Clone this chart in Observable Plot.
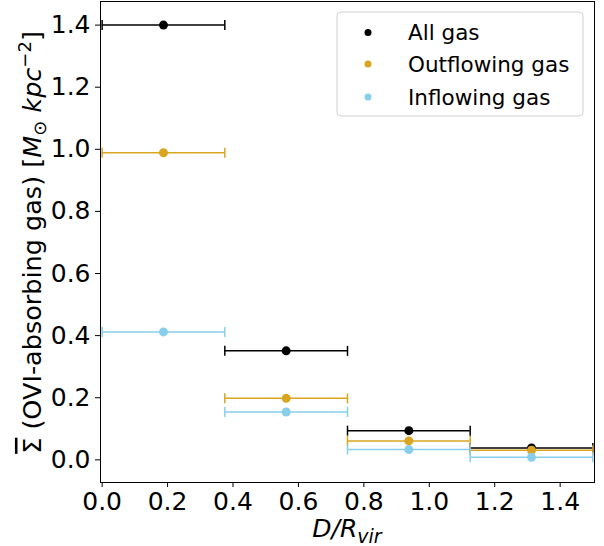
<!DOCTYPE html>
<html><head><meta charset="utf-8">
<script src="https://cdn.jsdelivr.net/npm/d3@7"></script>
<script src="https://cdn.jsdelivr.net/npm/@observablehq/plot@0.6"></script>
<style>body{margin:0;background:#fff}</style>
</head><body><div id="chart"></div>
<script>
const xCenters = [0.1875, 0.5625, 0.9375, 1.3125];
const xHalfWidth = 0.1875;
const allGas = [1.400, 0.351, 0.094, 0.038];
const outflowGas = [0.989, 0.198, 0.061, 0.031];
const inflowGas = [0.412, 0.154, 0.033, 0.008];
const seriesNames = ["All gas", "Outflowing gas", "Inflowing gas"];
const seriesColors = ["#000000", "#DAA520", "#87CEEB"];
const xTicks = [0.0, 0.2, 0.4, 0.6, 0.8, 1.0, 1.2, 1.4];
const yTicks = [0.0, 0.2, 0.4, 0.6, 0.8, 1.0, 1.2, 1.4];

const seriesValues = [allGas, outflowGas, inflowGas];
const rows = [];
seriesValues.forEach((vals, s) => vals.forEach((v, i) => rows.push({
  series: seriesNames[s], x: xCenters[i], x1: xCenters[i] - xHalfWidth, x2: xCenters[i] + xHalfWidth, y: v
})));

const capSymbol = { draw(ctx) { ctx.moveTo(0, -5); ctx.lineTo(0, 5); } };
const color = { domain: seriesNames, range: seriesColors };

const marks = [];
seriesNames.forEach(name => {
  const d = rows.filter(r => r.series === name);
  marks.push(Plot.ruleY(d, { x1: "x1", x2: "x2", y: "y", stroke: "series", strokeWidth: 1.5 }));
  marks.push(Plot.dot(d, { x: "x1", y: "y", symbol: capSymbol, stroke: "series", strokeWidth: 1.5, fill: "none" }));
  marks.push(Plot.dot(d, { x: "x2", y: "y", symbol: capSymbol, stroke: "series", strokeWidth: 1.5, fill: "none" }));
  marks.push(Plot.dot(d, { x: "x", y: "y", r: 4.5, fill: "series", stroke: "none" }));
});

const W = 604, H = 546, ML = 100, MR = 10, MT = 1, MB = 64;
const svg = Plot.plot({
  width: W, height: H, marginLeft: ML, marginRight: MR, marginTop: MT, marginBottom: MB,
  style: { fontFamily: "DejaVu Sans", fontSize: "25px", color: "black", background: "white" },
  color,
  x: { domain: [-0.005, 1.505], ticks: xTicks, tickFormat: d3.format(".1f"), label: null, tickSize: 5, tickPadding: 5 },
  y: { domain: [-0.073, 1.476], ticks: yTicks, tickFormat: d3.format(".1f"), label: null, tickSize: 5, tickPadding: 5 },
  marks: [
    ...marks,
    Plot.frame({ stroke: "black", strokeWidth: 1 })
  ]
});
document.getElementById("chart").appendChild(svg);

const s = d3.select(svg);
// x label
const xl = s.append("text").attr("x", (ML + W - MR) / 2).attr("y", 537)
  .attr("text-anchor", "middle").style("font-family", "DejaVu Sans").style("font-size", "25px");
xl.append("tspan").style("font-style", "italic").text("D/R");
xl.append("tspan").style("font-style", "italic").style("font-size", "19px").attr("dy", 6).text("vir");

// y label
const yl = s.append("text").attr("transform", `translate(32,${(MT + H - MB) / 2 + 1}) rotate(-90)`)
  .attr("text-anchor", "middle").style("font-family", "DejaVu Sans").style("font-size", "25.5px").attr("dy", "0.35em");
yl.append("tspan").style("text-decoration", "overline").text("Σ");
yl.append("tspan").text(" (OVI-absorbing gas) [");
yl.append("tspan").style("font-style", "italic").text("M");
yl.append("tspan").style("font-size", "18px").attr("dy", 5).text("⊙");
yl.append("tspan").attr("dy", -5).text(" ");
yl.append("tspan").style("font-style", "italic").text("kpc");
yl.append("tspan").style("font-size", "18px").attr("dy", -10).text("−2");
yl.append("tspan").attr("dy", 10).text("]");

// legend
const lg = s.append("g");
lg.append("rect").attr("x", 337).attr("y", 12).attr("width", 246).attr("height", 104).attr("rx", 4)
  .attr("fill", "white").attr("fill-opacity", 0.8).attr("stroke", "#d0d0d0");
const ly = [32.5, 64, 97];
seriesNames.forEach((n, i) => {
  lg.append("circle").attr("cx", 368).attr("cy", ly[i]).attr("r", 3.5).attr("fill", seriesColors[i]);
  lg.append("text").attr("x", 408).attr("y", ly[i]).attr("dy", "0.35em").attr("text-anchor", "start")
    .style("font-family", "DejaVu Sans").style("font-size", "21.5px").text(n);
});
</script>
</body></html>
